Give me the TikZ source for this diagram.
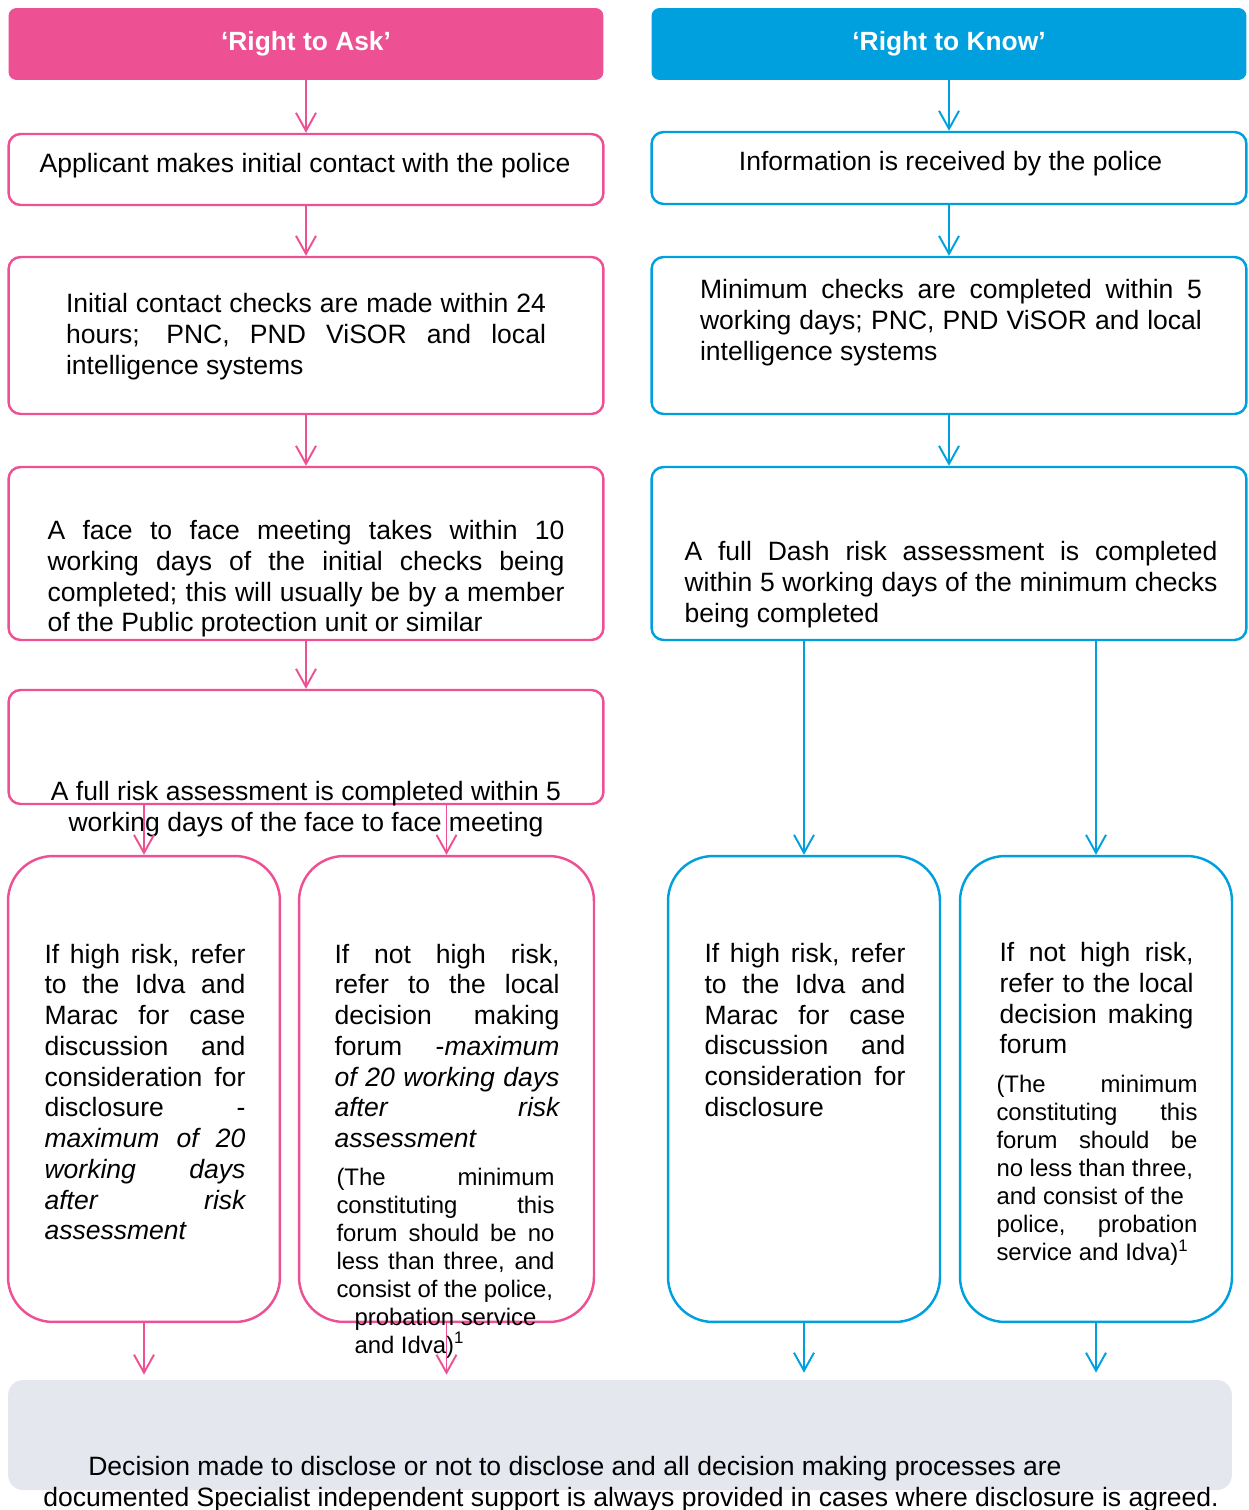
\documentclass[tikz,border=0pt]{standalone}
\usepackage{fontspec}
\setmainfont{Liberation Sans}
\usepackage{tikz}
\usetikzlibrary{arrows.meta, positioning, calc}

\definecolor{askpink}{RGB}{238,80,148}
\definecolor{knowblue}{RGB}{0,160,222}
\definecolor{decgrey}{RGB}{229,231,239}
\newcommand{\minortext}{\fontsize{13.6}{15.9}\selectfont}
\hyphenpenalty=10000
\exhyphenpenalty=10000
\tolerance=9999

\begin{document}
\begin{tikzpicture}[x=0.02cm, y=-0.02cm,
        hdrbox/.style={rectangle, fill=#1, rounded corners=0.16cm, minimum width=11.9cm, minimum height=1.44cm, inner sep=0pt, text=white, font=\fontsize{15}{17.4}\selectfont\bfseries},
        flowbox/.style={rectangle, draw=#1, line width=1.4pt, rounded corners=0.24cm, minimum width=11.9cm, inner sep=0pt},
        riskbox/.style={rectangle, draw=#1, line width=1.4pt, rounded corners=0.9cm, minimum width=5.44cm, minimum height=9.32cm, inner sep=0pt},
        arr/.style={draw=#1, line width=1.1pt, -{Straight Barb[length=0.36cm, width=0.4cm]}},
        bodytxt/.style={inner sep=0pt, font=\fontsize{15.1}{17.5}\selectfont, align=justify, text width=#1},
        plaintxt/.style={inner sep=0pt, font=\fontsize{15.1}{17.5}\selectfont}
    ]
        \useasboundingbox (0,0) rectangle (1248,1510);

        % Headers
        \node[hdrbox=askpink] (askHead) at (306,44) {‘Right to Ask’};
        \node[hdrbox=knowblue] (knowHead) at (949,44) {‘Right to Know’};

        % Boxes
        \node[flowbox=askpink, minimum height=1.42cm] (askContact) at (306,169.5) {};
        \node[flowbox=knowblue, minimum height=1.44cm] (knowInfo) at (949,168) {};
        \node[flowbox=askpink, minimum height=3.14cm] (askChecks) at (306,335.5) {};
        \node[flowbox=knowblue, minimum height=3.14cm] (knowChecks) at (949,335.5) {};
        \node[flowbox=askpink, minimum height=3.46cm] (askMeet) at (306,553.5) {};
        \node[flowbox=knowblue, minimum height=3.46cm] (knowDash) at (949,553.5) {};
        \node[flowbox=askpink, minimum height=2.28cm] (askRisk) at (306,747) {};
        \node[riskbox=askpink] (askHigh) at (144,1089) {};
        \node[riskbox=askpink, minimum width=5.9cm] (askLow) at (446.5,1089) {};
        \node[riskbox=knowblue] (knowHigh) at (804,1089) {};
        \node[riskbox=knowblue] (knowLow) at (1096,1089) {};
        \node[rectangle, fill=decgrey, rounded corners=0.3cm, minimum width=24.48cm, minimum height=2.2cm] (decision) at (620,1435) {};

        % Texts
        \node[plaintxt] (askContactTxt) at (305,166) {Applicant makes initial contact with the police};
        \node[plaintxt] (knowInfoTxt) at (950.5,164) {Information is received by the police};
        \node[bodytxt=9.6cm] (askChecksTxt) at (306,336.5) {Initial contact checks are made within 24\linebreak hours; PNC, PND ViSOR and local\linebreak intelligence systems};
        \node[bodytxt=10.04cm] (knowChecksTxt) at (951,322.5) {Minimum checks are completed within 5\linebreak working days; PNC, PND ViSOR and local\linebreak intelligence systems};
        \node[bodytxt=10.34cm] (askMeetTxt) at (306,579) {A face to face meeting takes within 10\linebreak working days of the initial checks being\linebreak completed; this will usually be by a member\linebreak of the Public protection unit or similar};
        \node[bodytxt=10.66cm] (knowDashTxt) at (951,584.5) {A full Dash risk assessment is completed\linebreak within 5 working days of the minimum checks\linebreak being completed};
        \node[plaintxt, align=center] (askRiskTxt) at (306,809) {A full risk assessment is completed within 5\\working days of the face to face meeting};
        \node[bodytxt=4.02cm] (askHighTxt) at (145,1092) {If high risk, refer\linebreak to the Idva and\linebreak Marac for case\linebreak discussion and\linebreak consideration for\linebreak disclosure -\linebreak \textit{maximum of 20\linebreak working days\linebreak after risk\linebreak assessment}};
        \node[bodytxt=4.5cm] (askLowTxt) at (447,1151) {If not high risk,\linebreak refer to the local\linebreak decision making\linebreak forum -\textit{maximum\linebreak of 20 working days\linebreak after risk\linebreak assessment}\par
            \vspace{0.2cm}
            {\minortext\leftskip=0.04cm\rightskip=0.1cm (The minimum\linebreak constituting this\linebreak forum should be no\linebreak less than three, and\linebreak consist of the police,\par
            \leftskip=0.4cm probation service\\and Idva)\textsuperscript{1}\par}};
        \node[bodytxt=4.02cm] (knowHighTxt) at (805,1030) {If high risk, refer\linebreak to the Idva and\linebreak Marac for case\linebreak discussion and\linebreak consideration for\linebreak disclosure};
        \node[bodytxt=4.02cm] (knowLowTxt) at (1097,1104) {\leftskip=0.06cm\rightskip=0.08cm If not high risk,\linebreak refer to the local\linebreak decision making\linebreak forum\par
            \vspace{0.22cm}
            {\minortext\leftskip=0pt\rightskip=0pt (The minimum\linebreak constituting this\linebreak forum should be\linebreak no less than three,\\and consist of the\\police, probation\linebreak service and Idva)\textsuperscript{1}\par}};
        \node[plaintxt, anchor=west, align=left] (decisionTxt) at (43,1484) {\hspace*{0.9cm}Decision made to disclose or not to disclose and all decision making processes are\\documented Specialist independent support is always provided in cases where disclosure is agreed.};

        % Connectors
        \draw[arr=askpink] (askHead) -- (askContact);
        \draw[arr=askpink] (askContact) -- (askChecks);
        \draw[arr=askpink] (askChecks) -- (askMeet);
        \draw[arr=askpink] (askMeet) -- (askRisk);
        \draw[arr=askpink] (askRisk.south -| askHigh.north) -- (askHigh.north);
        \draw[arr=askpink] (askRisk.south -| askLow.north) -- (askLow.north);
        \draw[arr=knowblue] (knowHead) -- (knowInfo);
        \draw[arr=knowblue] (knowInfo) -- (knowChecks);
        \draw[arr=knowblue] (knowChecks) -- (knowDash);
        \draw[arr=knowblue] (knowDash.south -| knowHigh.north) -- (knowHigh.north);
        \draw[arr=knowblue] (knowDash.south -| knowLow.north) -- (knowLow.north);

        \draw[arr=askpink, shorten >=0.1cm] (askHigh.south) -- (askHigh.south |- decision.north);
        \draw[arr=askpink, shorten >=0.1cm] (askLow.south) -- (askLow.south |- decision.north);
        \draw[arr=knowblue, shorten >=0.14cm] (knowHigh.south) -- (knowHigh.south |- decision.north);
        \draw[arr=knowblue, shorten >=0.14cm] (knowLow.south) -- (knowLow.south |- decision.north);

    \end{tikzpicture}
\end{document}
